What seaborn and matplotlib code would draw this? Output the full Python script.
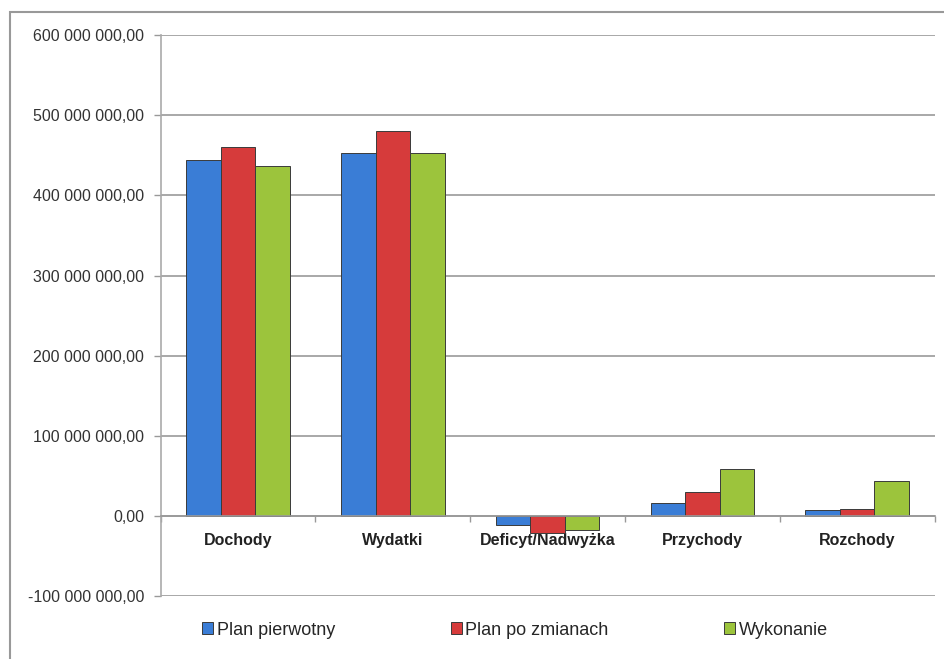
import pandas as pd
import matplotlib.pyplot as plt
import matplotlib.patches as mpatches
from matplotlib.ticker import FixedLocator, FuncFormatter
import seaborn as sns

# Dane (w zł)
kategorie = ['Dochody', 'Wydatki', 'Deficyt/Nadwyżka', 'Przychody', 'Rozchody']
plan_pierwotny = [444e6, 453e6, -12e6, 16e6, 7e6]
plan_po_zmianach = [461e6, 481e6, -21e6, 30e6, 9e6]
wykonanie = [437e6, 453e6, -17e6, 58e6, 43e6]
serie = ['Plan pierwotny', 'Plan po zmianach', 'Wykonanie']
kolory = ['#3a7dd6', '#d63b3b', '#9cc43c']

df = pd.DataFrame({
    'kategoria': kategorie * 3,
    'seria': [s for s in serie for _ in kategorie],
    'wartosc': plan_pierwotny + plan_po_zmianach + wykonanie,
})

sns.set_style('white')
plt.rcParams['font.family'] = ['Liberation Sans', 'DejaVu Sans']

fig = plt.figure(figsize=(9.45, 6.59), dpi=100)
ax = fig.add_axes([0.170, 0.0956, 0.819, 0.851])

sns.barplot(data=df, x='kategoria', y='wartosc', hue='seria', palette=kolory,
            saturation=1, width=0.67, edgecolor='#3a3a3a', linewidth=0.7,
            ax=ax, legend=True)

ax.set_ylim(-100e6, 600e6)
ax.set_xlim(-0.5, len(kategorie) - 0.5)
ax.set_yticks([i * 100e6 for i in range(-1, 7)])


def fmt(v, pos):
    s = f'{v:,.2f}'.replace(',', ' ').replace('.', ',')
    return s


ax.yaxis.set_major_formatter(FuncFormatter(fmt))
ax.tick_params(axis='y', labelsize=11.5, colors='#333333', length=5, width=1,
               direction='out', left=True, color='#999999', pad=7)
ax.grid(axis='y', color='#999999', linewidth=1.2)
ax.set_axisbelow(True)

# oś X na poziomie zera
ax.spines['bottom'].set_position(('data', 0))
ax.spines['bottom'].set_color('#999999')
ax.spines['bottom'].set_linewidth(1.2)
ax.spines['left'].set_color('#aaaaaa')
ax.spines['left'].set_linewidth(1.2)
ax.spines['top'].set_visible(False)
ax.spines['right'].set_visible(False)

granice = [i - 0.5 for i in range(len(kategorie) + 1)]
ax.xaxis.set_major_locator(FixedLocator(granice))
ax.xaxis.set_minor_locator(FixedLocator(list(range(len(kategorie)))))
ax.set_xticklabels([''] * len(granice))
ax.set_xticklabels(kategorie, minor=True)
ax.tick_params(axis='x', which='major', bottom=True, length=4, width=1, color='#999999', direction='out')
ax.tick_params(axis='x', which='minor', bottom=True, length=0, pad=12, labelsize=11.5, colors='#222222')
for t in ax.get_xticklabels(minor=True):
    t.set_fontweight('bold')
ax.set_xlabel('')
ax.set_ylabel('')

handles, labels = ax.get_legend_handles_labels()
ax.legend(handles, labels, loc='center', bbox_to_anchor=(0.545, 0.044),
          bbox_transform=fig.transFigure, ncol=3, frameon=False,
          fontsize=13, handlelength=0.6, handleheight=0.6, handletextpad=0.2,
          columnspacing=6.4)

# ramka wykresu
fig.patches.append(mpatches.Rectangle((10 / 945, -0.05), 1.1, 1 - 12 / 659 + 0.05,
                                      transform=fig.transFigure, fill=False,
                                      edgecolor='#999999', linewidth=1.5))

fig.savefig('out.png', dpi=100)
